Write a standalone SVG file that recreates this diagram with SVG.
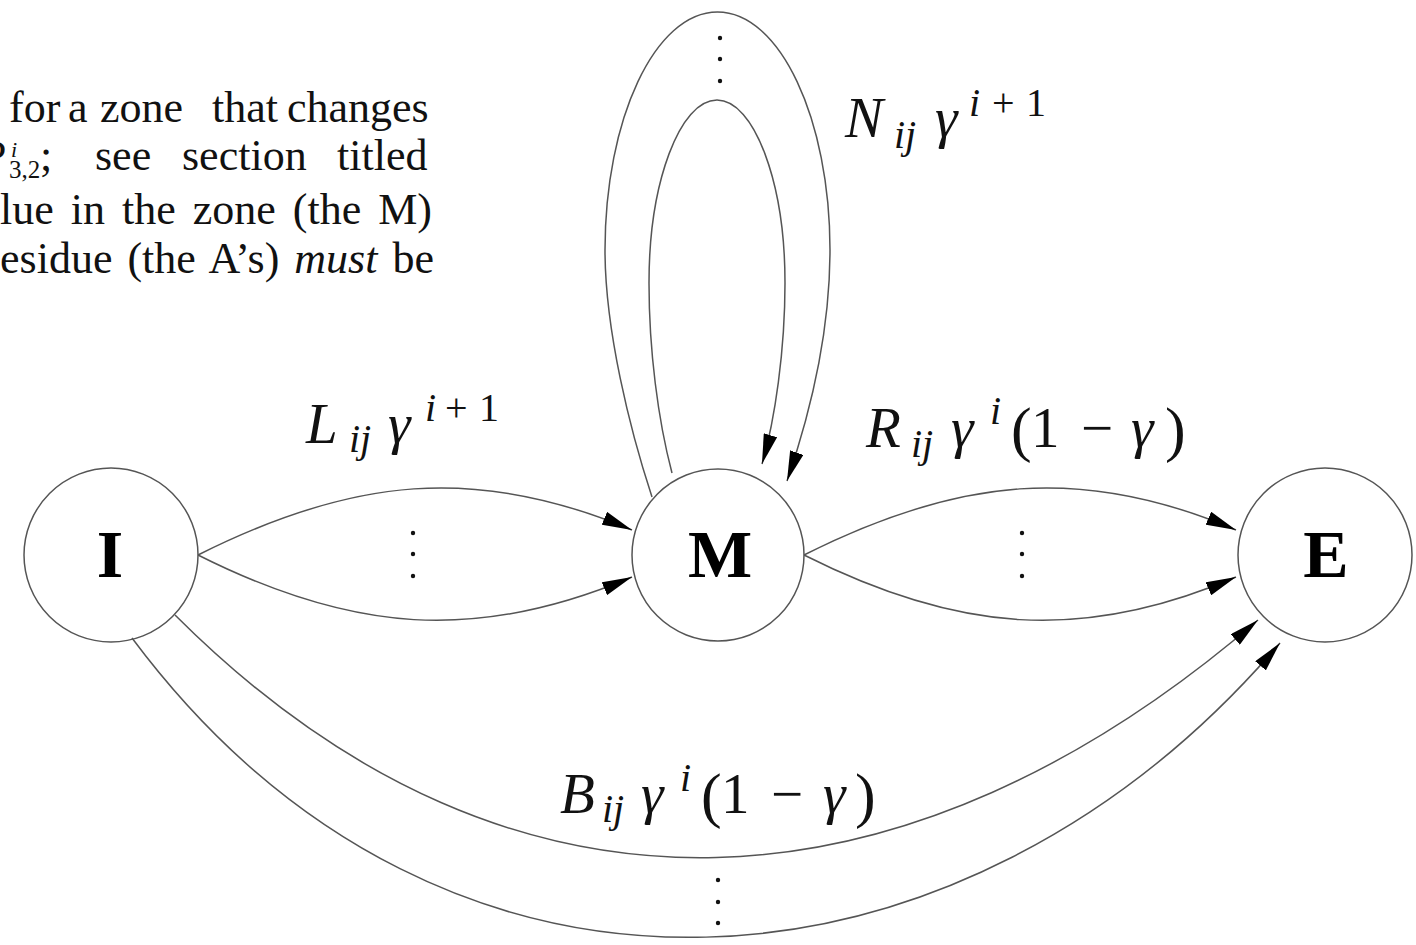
<svg xmlns="http://www.w3.org/2000/svg" width="1416" height="945" viewBox="0 0 1416 945">
<style>
.nd{fill:none;stroke:#555;stroke-width:1.5}
.nl{font-family:"Liberation Serif",serif;font-weight:bold;font-size:68px;text-anchor:middle;fill:#000}
.ed{fill:none;stroke:#555;stroke-width:1.5;marker-end:url(#arr)}
.m{font-family:"Liberation Serif",serif;font-style:italic;font-size:57px;fill:#111}
.s{font-size:40px}
.r{font-style:normal}
.p{font-size:62px;font-style:normal}
.body{font-family:"Liberation Serif",serif;font-size:44px;fill:#111}
.dot{fill:#111}
</style>
<defs>
<marker id="arr" markerUnits="userSpaceOnUse" markerWidth="30" markerHeight="14" refX="30" refY="7" orient="auto">
<path d="M0,0 L30,7 L0,14 z" fill="#000"/>
</marker>
</defs>
<rect width="1416" height="945" fill="#fff"/>
<g id="paragraph" class="body">
<text y="122"><tspan x="9">for</tspan><tspan x="68">a</tspan><tspan x="100">zone</tspan><tspan x="212">that</tspan><tspan x="287">changes</tspan></text>
<text y="170"><tspan x="-20" font-size="42" font-style="italic">P</tspan><tspan x="11" y="157" font-size="22" font-style="italic">i</tspan><tspan x="9" y="178" font-size="25">3,2</tspan><tspan x="40" y="170">;</tspan><tspan x="95">see</tspan><tspan x="182">section</tspan><tspan x="337">titled</tspan></text>
<text y="224" x="0" word-spacing="6">lue in the zone (the M)</text>
<text y="273" x="0" word-spacing="4">esidue (the A’s) <tspan font-style="italic">must</tspan> be</text>
</g>
<g id="connectors">
<path class="ed" d="M198,555 C351,478 476,464 632,530"/>
<path class="ed" d="M198,555 C351,632 476,643 632,577"/>
<path class="ed" d="M804,555 C957,478 1082,464 1236,530"/>
<path class="ed" d="M804,555 C957,632 1082,643 1236,577"/>
<path class="ed" d="M652,497 C630,430 605,330 605,250 C605,119 655,12 717.5,12 C780,12 830,119 830,250 C830,340 808,420 787,481"/>
<path class="ed" d="M672,473 C658,420 649,350 649,283 C649,182 680,100 717,100 C754,100 785,182 785,283 C785,350 775,420 762,464"/>
<path class="ed" d="M175,615 C519,959 914,916 1258,620"/>
<path class="ed" d="M132,638 C447,1060 965,1012 1280,643"/>
<g id="dots">
<circle class="dot" cx="413" cy="533" r="2.2"/><circle class="dot" cx="413" cy="554" r="2.2"/><circle class="dot" cx="413" cy="576" r="2.2"/>
<circle class="dot" cx="1022" cy="533" r="2.2"/><circle class="dot" cx="1022" cy="554" r="2.2"/><circle class="dot" cx="1022" cy="576" r="2.2"/>
<circle class="dot" cx="720" cy="38" r="2.2"/><circle class="dot" cx="720" cy="59" r="2.2"/><circle class="dot" cx="720" cy="81" r="2.2"/>
<circle class="dot" cx="718" cy="880" r="2.2"/><circle class="dot" cx="718" cy="902" r="2.2"/><circle class="dot" cx="718" cy="923" r="2.2"/>
</g>
<g id="labels">
<text id="label-L" class="m"><tspan x="306" y="443">L</tspan><tspan class="s" x="349" y="452">ij</tspan><tspan x="388" y="443">γ</tspan><tspan class="s" x="425" y="421">i</tspan><tspan class="s r" x="445" y="421">+</tspan><tspan class="s r" x="479" y="421">1</tspan></text>
<text id="label-N" class="m"><tspan x="845" y="137">N</tspan><tspan class="s" x="894" y="148">ij</tspan><tspan x="935" y="137">γ</tspan><tspan class="s" x="969" y="116">i</tspan><tspan class="s r" x="992" y="116">+</tspan><tspan class="s r" x="1026" y="116">1</tspan></text>
<text id="label-R" class="m"><tspan x="866" y="447">R</tspan><tspan class="s" x="911" y="457">ij</tspan><tspan x="951" y="447">γ</tspan><tspan class="s" x="990" y="424">i</tspan><tspan class="p" x="1011" y="450">(</tspan><tspan class="r" x="1031" y="447">1</tspan><tspan class="r" x="1081" y="447">−</tspan><tspan x="1131" y="447">γ</tspan><tspan class="p" x="1165" y="450">)</tspan></text>
<text id="label-B" class="m"><tspan x="560" y="813">B</tspan><tspan class="s" x="602" y="822">ij</tspan><tspan x="641" y="813">γ</tspan><tspan class="s" x="680" y="791">i</tspan><tspan class="p" x="701" y="816">(</tspan><tspan class="r" x="721" y="813">1</tspan><tspan class="r" x="771" y="813">−</tspan><tspan x="823" y="813">γ</tspan><tspan class="p" x="855" y="816">)</tspan></text>
</g>
</g>
<g id="node-I"><circle class="nd" cx="111" cy="555" r="87"/><text class="nl" x="110" y="577">I</text></g>
<g id="node-M"><circle class="nd" cx="718" cy="555" r="86"/><text class="nl" x="720" y="577">M</text></g>
<g id="node-E"><circle class="nd" cx="1325" cy="555" r="87"/><text class="nl" x="1326" y="577">E</text></g>
</svg>
